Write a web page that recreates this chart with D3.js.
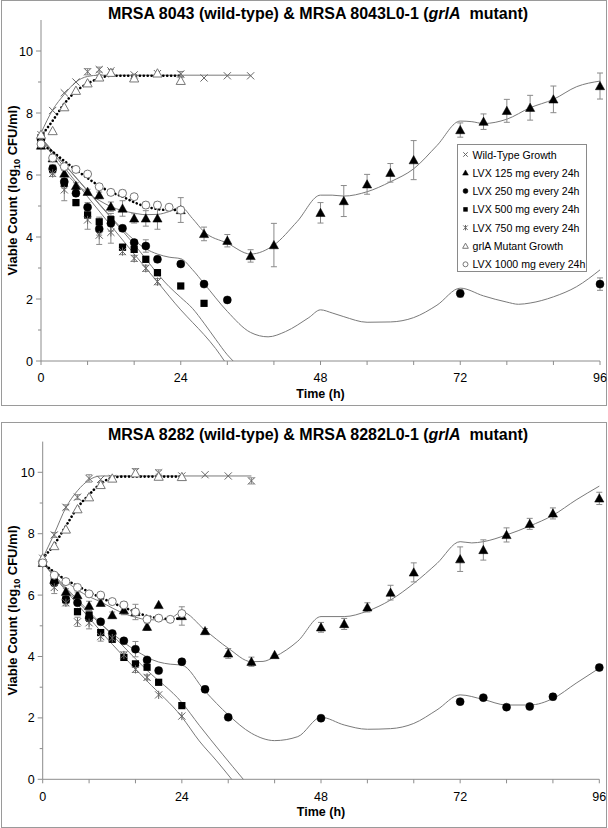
<!DOCTYPE html>
<html><head><meta charset="utf-8">
<script src="https://cdn.jsdelivr.net/npm/d3@7"></script>
<style>
body{margin:0;background:#fff}
svg{display:block}
text{font-family:"Liberation Sans",Arial,Helvetica,sans-serif}
</style>
</head><body>
<svg id="c" width="608" height="828"></svg>
<script>
// ---------- tick labels & legend ----------
const xTickLabels = [0, 24, 48, 72, 96];
const xMinorTicks = [8, 16, 32, 40, 56, 64, 80, 88];
const yTickLabels = [0, 2, 4, 6, 8, 10];
const yMinorTicks = [1, 3, 5, 7, 9];
const legendLabels = ["Wild-Type Growth", "LVX 125 mg every 24h", "LVX 250 mg every 24h",
  "LVX 500 mg every 24h", "LVX 750 mg every 24h", "grlA Mutant Growth", "LVX 1000 mg every 24h"];
const titles = ["MRSA 8043 (wild-type) & MRSA 8043L0-1 (", "MRSA 8282 (wild-type) & MRSA 8282L0-1 ("];
const titleItalic = "grlA";
const titleEnd = "  mutant)";
const xLabel = "Time (h)";

// ---------- panel 1 (MRSA 8043): [time h, log10 CFU/ml, sd] ----------
const p1WT = [[0,7.3,0.05],[2,8.08,0.06],[4,8.65,0.05],[6,9.0,0.03],[8,9.33,0.1],[10,9.4,0.08],[12,9.36,0.05],[16,9.23,0.05],[20,9.27,0.05],[24,9.26,0.08],[28,9.13,0.03],[32,9.2,0.03],[36,9.2,0.05]];
const p1L125 = [[0,6.95,0.08],[2,6.54,0.1],[4,6.05,0.1],[6,5.65,0.1],[8,5.46,0.08],[10,5.35,0.1],[12,4.98,0.15],[14,4.92,0.25],[16,4.6,0.15],[18,4.6,0.25],[20,4.6,0.35],[24,4.87,0.4],[28,4.1,0.22],[32,3.88,0.2],[36,3.39,0.2],[40,3.74,0.7],[48,4.78,0.33],[52,5.16,0.5],[56,5.7,0.32],[60,6.07,0.3],[64,6.48,0.63],[72,7.45,0.23],[76,7.72,0.25],[80,8.07,0.37],[84,8.17,0.4],[88,8.44,0.43],[96,8.87,0.42]];
const p1L250 = [[0,7.15,0.05],[2,6.2,0.1],[4,5.78,0.1],[6,5.41,0.1],[8,4.96,0.15],[10,4.26,0.2],[12,4.44,0.25],[14,4.28,0.1],[16,3.82,0.1],[18,3.71,0.2],[20,3.28,0.1],[24,3.13,0.08],[28,2.48,0.08],[32,1.97,0.08],[72,2.18,0.12],[96,2.48,0.2]];
const p1L500 = [[0,7.2,0.05],[2,6.19,0.15],[4,5.73,0.15],[6,5.11,0.1],[8,4.71,0.1],[10,4.49,0.15],[12,4.56,0.2],[14,3.67,0.1],[16,3.6,0.1],[18,3.28,0.1],[20,2.85,0.1],[24,2.42,0.05],[28,1.86,0.05]];
const p1L750 = [[0,7.1,0.05],[2,6.05,0.1],[4,5.52,0.35],[8,4.55,0.3],[10,4.06,0.3],[12,4.15,0.35],[14,3.53,0.1],[16,3.31,0.1],[18,2.99,0.1],[20,2.56,0.1]];
const p1Mut = [[0,7.3,0.05],[2,7.42,0.05],[4,8.19,0.05],[6,8.72,0.05],[8,8.96,0.05],[10,9.15,0.08],[12,9.3,0.1],[16,9.12,0.08],[20,9.28,0.05],[24,9.04,0.1]];
const p1L1000 = [[0,7.0,0.05],[2,6.55,0.05],[4,6.27,0.1],[6,6.18,0.08],[8,6.03,0.08],[10,5.62,0.08],[12,5.44,0.08],[14,5.41,0.1],[16,5.3,0.08],[18,5.03,0.1],[20,5.03,0.1],[22,4.96,0.08],[24,4.87,0.1]];
// model curves panel 1 [time h, log10 CFU/ml]
const p1WTFit = [[0,7.35],[2,8.1],[4,8.6],[6,9.0],[8,9.18],[10,9.22],[36,9.22]];
const p1L125Fit = [[0,7.25],[2,6.62],[4,6.12],[6,5.72],[8,5.42],[10,5.18],[12,4.98],[14,4.85],[16,4.77],[18,4.72],[20,4.73],[22,4.82],[24,4.97],[26,4.6],[28,4.17],[32,3.8],[36,3.45],[40,3.74],[44,4.5],[48,5.35],[50,5.35],[52,5.32],[56,5.46],[60,5.78],[64,6.2],[68,6.95],[72,7.74],[74,7.72],[76,7.66],[80,7.8],[84,8.17],[88,8.44],[92,8.85],[96,9.03]];
const p1L250Fit = [[0,7.2],[4,6.35],[8,5.5],[12,4.65],[14,4.25],[16,3.9],[18,3.62],[20,3.45],[22,3.35],[24,3.3],[26,2.95],[28,2.5],[32,1.6],[36,0.92],[39,0.78],[42,0.95],[46,1.4],[48,1.65],[50,1.55],[52,1.43],[56,1.25],[60,1.26],[64,1.4],[68,1.8],[72,2.35],[76,2.1],[80,1.9],[82,1.83],[84,1.87],[88,2.07],[92,2.4],[96,2.94]];
const p1L500Fit = [[0,7.2],[8,5.48],[16,3.76],[22,2.4],[24,2.05],[26,1.7],[28,1.22],[30,0.7],[32,0.2],[33,0]];
const p1L750Fit = [[0,7.2],[8,5.3],[16,3.45],[20,2.55],[24,1.65],[26,1.25],[28,0.85],[30,0.4],[31.5,0]];
const p1MutFit = [[0,7.25],[2,7.75],[4,8.3],[6,8.7],[8,8.95],[10,9.12],[12,9.2],[24,9.2]];
const p1L1000Fit = [[0,7.0],[2,6.75],[4,6.45],[6,6.17],[8,5.9],[10,5.65],[12,5.45],[14,5.3],[16,5.12],[18,4.98],[20,4.9],[22,4.87],[24,4.87]];

// ---------- panel 2 (MRSA 8282) ----------
const p2WT = [[0,7.2,0.05],[2,7.96,0.08],[4,8.86,0.08],[6,9.19,0.08],[8,9.8,0.12],[10,9.77,0.05],[12,9.8,0.05],[16,10.02,0.1],[20,9.98,0.1],[24,9.88,0.05],[28,9.92,0.03],[32,9.88,0.03],[36,9.72,0.1]];
const p2L125 = [[0,7.05,0.05],[2,6.5,0.1],[4,6.11,0.1],[6,6.0,0.1],[8,5.65,0.15],[10,5.75,0.1],[12,5.35,0.1],[14,5.51,0.15],[16,5.45,0.25],[18,4.97,0.12],[20,5.68,0.05],[24,5.32,0.3],[28,4.83,0.08],[32,4.1,0.16],[36,3.83,0.15],[40,4.05,0.05],[48,4.95,0.16],[52,5.06,0.18],[56,5.6,0.15],[60,6.08,0.24],[64,6.74,0.31],[72,7.17,0.4],[76,7.47,0.33],[80,7.96,0.23],[84,8.32,0.18],[88,8.66,0.18],[96,9.15,0.2]];
const p2L250 = [[0,7.05,0.05],[2,6.4,0.1],[4,5.85,0.1],[6,5.75,0.05],[8,5.25,0.1],[10,5.13,0.05],[12,4.75,0.05],[14,4.51,0.05],[16,4.24,0.25],[18,3.89,0.05],[20,3.54,0.05],[24,3.83,0.08],[28,2.93,0.1],[32,2.02,0.05],[48,1.99,0.08],[72,2.53,0.05],[76,2.66,0.05],[80,2.35,0.05],[84,2.37,0.05],[88,2.69,0.1],[96,3.64,0.08]];
const p2L500 = [[0,7.05,0.08],[2,6.45,0.1],[4,5.85,0.1],[6,5.46,0.1],[8,5.35,0.1],[10,4.78,0.05],[12,4.56,0.05],[14,3.97,0.05],[16,3.76,0.05],[18,3.65,0.05],[20,3.16,0.05],[24,2.4,0.05]];
const p2L750 = [[0,7.05,0.05],[2,6.25,0.2],[4,5.75,0.1],[6,5.13,0.15],[8,5.1,0.2],[10,4.65,0.15],[12,4.6,0.1],[14,4.05,0.1],[16,3.58,0.1],[18,3.32,0.08],[20,2.75,0.05],[24,2.06,0.05]];
const p2Mut = [[0,7.2,0.05],[2,7.6,0.05],[4,8.14,0.05],[6,8.8,0.05],[8,9.19,0.05],[10,9.59,0.08],[12,9.8,0.08],[16,9.97,0.05],[20,9.86,0.08],[24,9.85,0.05]];
const p2L1000 = [[0,7.05,0.05],[2,6.65,0.05],[4,6.44,0.05],[6,6.25,0.05],[8,6.04,0.05],[10,6.0,0.05],[12,5.79,0.05],[14,5.68,0.1],[16,5.45,0.1],[18,5.21,0.08],[20,5.25,0.05],[22,5.21,0.05],[24,5.4,0.05]];
const p2WTFit = [[0,7.2],[2,8.0],[4,8.85],[6,9.4],[8,9.75],[10,9.88],[36,9.88]];
const p2L125Fit = [[0,7.05],[2,6.75],[4,6.45],[6,6.17],[8,5.95],[10,5.78],[12,5.58],[14,5.4],[16,5.28],[18,5.2],[20,5.19],[22,5.24],[24,5.45],[28,4.86],[32,4.27],[36,3.83],[38,3.84],[40,3.99],[44,4.5],[48,5.3],[52,5.3],[56,5.48],[60,5.84],[64,6.38],[68,7.03],[72,7.74],[74,7.7],[76,7.74],[80,7.96],[84,8.25],[88,8.6],[92,9.1],[96,9.55]];
const p2L250Fit = [[0,7.05],[4,6.2],[8,5.4],[12,4.75],[16,4.2],[20,3.82],[22,3.75],[24,3.72],[28,2.87],[32,2.1],[36,1.5],[40,1.26],[44,1.39],[48,2.02],[52,1.77],[56,1.63],[60,1.65],[64,1.82],[68,2.26],[72,2.75],[76,2.6],[80,2.42],[84,2.42],[88,2.63],[92,3.13],[96,3.62]];
const p2L500Fit = [[0,7.05],[6,5.85],[12,4.7],[18,3.55],[24,2.5],[27,1.76],[31,0.82],[34.6,0]];
const p2L750Fit = [[0,7.05],[6,5.7],[12,4.4],[18,3.2],[24,2.03],[27,1.25],[30,0.6],[32.6,0]];
const p2MutFit = [[0,7.2],[2,7.65],[4,8.25],[6,8.85],[8,9.27],[10,9.63],[12,9.82],[14,9.86],[24,9.86]];
const p2L1000Fit = [[0,7.05],[2,6.75],[4,6.5],[6,6.3],[8,6.1],[10,5.92],[12,5.75],[14,5.6],[16,5.45],[18,5.32],[20,5.25],[22,5.22],[24,5.25]];

// ---------- drawing ----------
const svg = d3.select("#c");
const GRAY_AX = "#8c8c8c", GRAY_LINE = "#7a7a7a", GRAY_ERR = "#8a8a8a";

function marker(g, type, x, y, k) {
  k = k || 1;
  if (type === "x" || type === "star") {
    const s = 3.6 * k;
    let d = `M${x-s},${y-s}L${x+s},${y+s}M${x-s},${y+s}L${x+s},${y-s}`;
    if (type === "star") d += `M${x},${y-s-0.5}L${x},${y+s+0.5}`;
    g.append("path").attr("d", d).attr("stroke", "#666").attr("stroke-width", 1).attr("fill", "none");
  } else if (type === "tri" || type === "otri") {
    const s = 4.6 * k;
    g.append("path").attr("d", `M${x},${y-s}L${x+s},${y+s*0.8}L${x-s},${y+s*0.8}Z`)
      .attr("fill", type === "tri" ? "#000" : "#fff")
      .attr("stroke", type === "tri" ? "#000" : "#777").attr("stroke-width", type === "tri" ? 0.5 : 1);
  } else if (type === "circle" || type === "ocircle") {
    g.append("circle").attr("cx", x).attr("cy", y).attr("r", 4 * k)
      .attr("fill", type === "circle" ? "#000" : "#fff")
      .attr("stroke", type === "circle" ? "#000" : "#777").attr("stroke-width", type === "circle" ? 0.5 : 1);
  } else if (type === "square") {
    const s = 3.6 * k;
    g.append("rect").attr("x", x - s).attr("y", y - s).attr("width", 2 * s).attr("height", 2 * s).attr("fill", "#000");
  }
}

function drawPanel(cfg) {
  const g = svg.append("g");
  g.append("rect").attr("x", cfg.frame[0] + 0.5).attr("y", cfg.frame[1] + 0.5)
    .attr("width", cfg.frame[2]).attr("height", cfg.frame[3])
    .attr("fill", "#fff").attr("stroke", "#9a9a9a").attr("stroke-width", 1);

  const x = d3.scaleLinear().domain([0, 96]).range([cfg.left, cfg.right]);
  const y = d3.scaleLinear().domain([0, 11]).range([cfg.bottom, cfg.top]);

  const ax = g.append("g").attr("stroke", GRAY_AX).attr("stroke-width", 1);
  ax.append("line").attr("x1", x(0)).attr("x2", x(0)).attr("y1", y(0)).attr("y2", y(11));
  ax.append("line").attr("x1", x(0)).attr("x2", x(96)).attr("y1", y(0)).attr("y2", y(0));
  yTickLabels.forEach(v => ax.append("line").attr("x1", x(0) - 5).attr("x2", x(0)).attr("y1", y(v)).attr("y2", y(v)));
  yMinorTicks.forEach(v => ax.append("line").attr("x1", x(0) - 3).attr("x2", x(0)).attr("y1", y(v)).attr("y2", y(v)));
  xTickLabels.concat(xMinorTicks).forEach(t => ax.append("line").attr("x1", x(t)).attr("x2", x(t)).attr("y1", y(0)).attr("y2", y(0) + 4));

  g.selectAll(".yt").data(yTickLabels).join("text")
    .attr("x", x(0) - 8).attr("y", d => y(d) + 4.5).attr("text-anchor", "end")
    .attr("font-size", 12.5).attr("fill", "#000").text(d => d);
  g.selectAll(".xt").data(xTickLabels).join("text")
    .attr("x", d => x(d)).attr("y", cfg.tickBase).attr("text-anchor", "middle")
    .attr("font-size", 12.5).attr("fill", "#000").text(d => d);

  const tt = g.append("text").attr("x", cfg.titleX).attr("y", cfg.titleBase).attr("text-anchor", "middle")
    .attr("font-size", 16).attr("font-weight", "bold").style("white-space", "pre");
  tt.append("tspan").text(cfg.title);
  tt.append("tspan").attr("font-style", "italic").text(titleItalic);
  tt.append("tspan").text(titleEnd);

  g.append("text").attr("x", (x(0) + x(96)) / 2).attr("y", cfg.xLabelBase).attr("text-anchor", "middle")
    .attr("font-size", 12.5).attr("font-weight", "bold").text(xLabel);
  const yl = g.append("text").attr("transform", `translate(17,${(y(0) + y(11)) / 2}) rotate(-90)`)
    .attr("text-anchor", "middle").attr("font-size", 13).attr("font-weight", "bold");
  yl.append("tspan").text("Viable Count (log");
  yl.append("tspan").attr("font-size", 9).attr("dy", 3).text("10");
  yl.append("tspan").attr("dy", -3).text(" CFU/ml)");

  const line = d3.line().x(d => x(d[0])).y(d => y(d[1])).curve(d3.curveMonotoneX);
  cfg.solidFits.forEach(f => g.append("path").attr("d", line(f)).attr("fill", "none")
    .attr("stroke", GRAY_LINE).attr("stroke-width", 1));
  cfg.dottedFits.forEach(f => g.append("path").attr("d", line(f)).attr("fill", "none")
    .attr("stroke", "#000").attr("stroke-width", 2.6).attr("stroke-linecap", "round")
    .attr("stroke-dasharray", "0.1,3.8"));

  cfg.series.forEach(s => {
    s.data.forEach(d => {
      if (d[2] > 0.06) {
        const y1 = y(d[1] - d[2]), y2 = y(d[1] + d[2]), xx = x(d[0]);
        g.append("path").attr("d", `M${xx},${y1}L${xx},${y2}M${xx-3},${y1}L${xx+3},${y1}M${xx-3},${y2}L${xx+3},${y2}`)
          .attr("stroke", GRAY_ERR).attr("stroke-width", 1).attr("fill", "none");
      }
    });
  });
  cfg.series.forEach(s => s.data.forEach(d => marker(g, s.type, x(d[0]), y(d[1]))));

  if (cfg.legend) {
    const L = g.append("g");
    L.append("rect").attr("x", 457.5).attr("y", 144.5).attr("width", 129).attr("height", 127)
      .attr("fill", "#fff").attr("stroke", "#8a8a8a");
    const types = cfg.series.map(s => s.type);
    legendLabels.forEach((lab, i) => {
      const yy = 154.5 + i * 18.3;
      marker(L, types[i], 465.5, yy, 0.62);
      L.append("text").attr("x", 472.5).attr("y", yy + 4).attr("font-size", 10.6).text(lab);
    });
  }
}

drawPanel({
  frame: [1, 0, 605, 405], left: 41, right: 600, bottom: 361, top: 20,
  titleX: 318, titleBase: 19, tickBase: 382, xLabelBase: 398, title: titles[0], legend: true,
  solidFits: [p1WTFit, p1L125Fit, p1L250Fit, p1L500Fit, p1L750Fit],
  dottedFits: [p1MutFit, p1L1000Fit],
  series: [
    {type: "x", data: p1WT}, {type: "tri", data: p1L125}, {type: "circle", data: p1L250},
    {type: "square", data: p1L500}, {type: "star", data: p1L750}, {type: "otri", data: p1Mut},
    {type: "ocircle", data: p1L1000}
  ]
});
drawPanel({
  frame: [1, 422, 605, 405], left: 42.7, right: 599.3, bottom: 779.3, top: 441.6,
  titleX: 318, titleBase: 440, tickBase: 801, xLabelBase: 816, title: titles[1], legend: false,
  solidFits: [p2WTFit, p2L125Fit, p2L250Fit, p2L500Fit, p2L750Fit],
  dottedFits: [p2MutFit, p2L1000Fit],
  series: [
    {type: "x", data: p2WT}, {type: "tri", data: p2L125}, {type: "circle", data: p2L250},
    {type: "square", data: p2L500}, {type: "star", data: p2L750}, {type: "otri", data: p2Mut},
    {type: "ocircle", data: p2L1000}
  ]
});
</script>
</body></html>
